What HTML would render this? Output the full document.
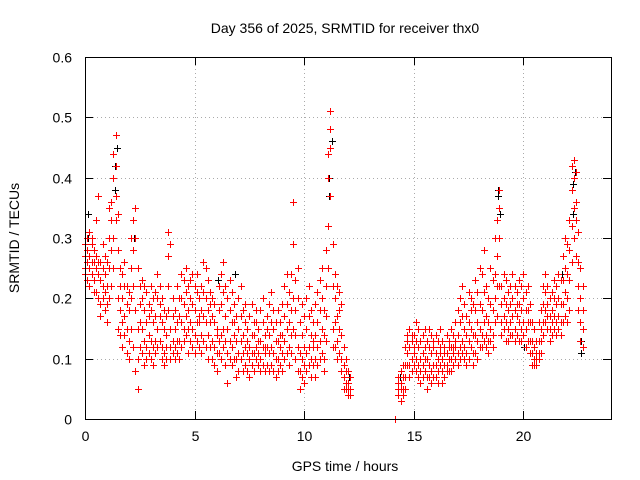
<!DOCTYPE html>
<html><head><meta charset="utf-8"><style>
body{margin:0;background:#fff;}
svg{display:block;font-family:"Liberation Sans",sans-serif;}
</style></head><body>
<svg id="chart" width="640" height="480">
<rect width="640" height="480" fill="#fff"/>
<text x="345" y="33" font-size="14" text-anchor="middle">Day 356 of 2025, SRMTID for receiver thx0</text>
<text x="0" y="0" font-size="14" text-anchor="middle" transform="translate(19,238) rotate(-90)">SRMTID / TECUs</text>
<text x="345" y="471" font-size="14" text-anchor="middle">GPS time / hours</text>
<g id="grid"></g>
<g id="ticks"></g>
<g id="black"></g>
<g id="red"></g>
<rect x="85.5" y="57.5" width="526" height="362" fill="none" stroke="#000"/>
</svg>
<script>
const xTicks=[0,5,10,15,20];
const yTicks=[0,0.1,0.2,0.3,0.4,0.5,0.6];
const yTickLabels=["0","0.1","0.2","0.3","0.4","0.5","0.6"];
const segA=[
[0.0,.27,.25,.29,.24],[0.1,.30,.26,.28,.23],[0.2,.31,.27,.25,.22],[0.3,.29,.26,.24,.30],[0.4,.26,.23,.28,.21],
[0.5,.25,.21,.27,.33],[0.6,.24,.20,.37,.26],[0.7,.23,.19,.26,.17],[0.8,.25,.22,.20,.29],[0.9,.24,.21,.18,.27],
[1.0,.26,.22,.16,.19],[1.1,.35,.30,.25,.20],[1.2,.33,.28,.22,.36],[1.3,.40,.44,.30,.25],[1.4,.47,.42,.37,.33],
[1.5,.34,.28,.20,.15],[1.6,.22,.18,.14,.25],[1.7,.20,.16,.12,.24],[1.8,.22,.17,.26,.14],[1.9,.19,.15,.11,.22],
[2.0,.18,.13,.10,.21],[2.1,.30,.25,.20,.15],[2.2,.33,.28,.22,.12],[2.3,.35,.30,.18,.08],[2.4,.25,.10,.05,.15],
[2.5,.22,.16,.12,.19],[2.6,.20,.15,.11,.23],[2.7,.18,.13,.09,.22],[2.8,.21,.16,.12,.10],[2.9,.19,.14,.11,.17],
[3.0,.18,.13,.10,.22],[3.1,.16,.12,.20,.09],[3.2,.17,.13,.21,.11],[3.3,.20,.15,.12,.24],[3.4,.22,.17,.13,.19],
[3.5,.16,.12,.10,.20],[3.6,.15,.11,.09,.18],[3.7,.14,.10,.17,.12],[3.8,.31,.27,.22,.18],[3.9,.29,.15,.12,.10],
[4.0,.17,.13,.11,.20],[4.1,.15,.12,.10,.18],[4.2,.16,.13,.22,.11],[4.3,.17,.13,.10,.20],[4.4,.24,.20,.16,.12],
[4.5,.23,.19,.15,.13],[4.6,.25,.21,.17,.14],[4.7,.22,.18,.15,.11],[4.8,.20,.16,.13,.23],[4.9,.24,.19,.15,.12],
[5.0,.22,.18,.14,.11],[5.1,.21,.16,.13,.24],[5.2,.20,.16,.12,.17],[5.3,.18,.14,.11,.22],[5.4,.26,.21,.17,.13],
[5.5,.25,.20,.16,.12],[5.6,.23,.18,.14,.10],[5.7,.21,.16,.12,.19],[5.8,.17,.13,.10,.20],[5.9,.16,.12,.09,.19],
[6.0,.15,.11,.14,.08],[6.1,.18,.13,.11,.22],[6.2,.24,.19,.14,.10],[6.3,.26,.21,.15,.12],[6.4,.22,.17,.13,.09],
[6.5,.20,.15,.11,.06],[6.6,.23,.18,.13,.10],[6.7,.21,.16,.12,.09],[6.8,.19,.14,.10,.16],[6.9,.17,.13,.10,.07],
[7.0,.20,.15,.11,.08],[7.1,.22,.17,.13,.10],[7.2,.18,.14,.11,.08],[7.3,.16,.12,.09,.19],[7.4,.15,.11,.08,.13],
[7.5,.17,.12,.10,.07],[7.6,.19,.14,.11,.09],[7.7,.14,.11,.08,.16],[7.8,.16,.12,.10,.18],[7.9,.15,.11,.09,.13],
[8.0,.18,.13,.10,.08],[8.1,.16,.12,.09,.20],[8.2,.14,.11,.08,.12],[8.3,.17,.12,.09,.15],[8.4,.19,.14,.11,.08],
[8.5,.21,.16,.12,.09],[8.6,.15,.11,.08,.18],[8.7,.13,.10,.07,.16],[8.8,.18,.13,.10,.08],[8.9,.16,.12,.09,.14],
[9.0,.19,.14,.11,.08],[9.1,.22,.17,.13,.10],[9.2,.24,.19,.15,.11],[9.3,.21,.16,.12,.09],[9.4,.18,.14,.11,.24],
[9.5,.36,.29,.20,.15],[9.6,.23,.18,.14,.10],[9.7,.25,.20,.12,.08],[9.8,.16,.11,.08,.05],[9.9,.14,.10,.07,.19],
[10.0,.17,.12,.09,.06],[10.1,.20,.15,.11,.08],[10.2,.22,.17,.12,.09],[10.3,.18,.14,.10,.07],[10.4,.16,.12,.09,.13],
[10.5,.19,.14,.10,.07],[10.6,.21,.16,.12,.09],[10.7,.23,.18,.13,.10],[10.8,.20,.15,.11,.25],[10.9,.18,.14,.10,.08],
[11.0,.22,.17,.13,.28],[11.1,.44,.40,.32,.25],[11.2,.51,.48,.45,.37],[11.3,.29,.22,.15,.12],[11.4,.20,.16,.12,.24],
[11.5,.22,.17,.13,.10],[11.6,.21,.15,.11,.18],[11.7,.19,.14,.10,.08],[11.8,.12,.09,.07,.05],[11.9,.10,.08,.06,.05],
[12.0,.08,.06,.05,.04],[12.1,.07,.05,.04]
];
const segB=[
[14.15,0],[14.3,.07,.05,.04,.06],[14.4,.08,.06,.05,.03],[14.5,.09,.07,.05,.04],[14.6,.12,.09,.07,.05],
[14.7,.14,.11,.09,.13],[14.8,.15,.12,.09,.07],[14.9,.13,.10,.08,.14],[15.0,.14,.11,.09,.12],[15.1,.16,.13,.10,.08],
[15.2,.15,.12,.09,.07],[15.3,.13,.10,.08,.06],[15.4,.14,.11,.09,.07],[15.5,.12,.10,.08,.15],[15.6,.13,.10,.07,.05],
[15.7,.15,.12,.09,.07],[15.8,.14,.11,.08,.06],[15.9,.12,.09,.07,.13],[16.0,.14,.11,.09,.07],[16.1,.13,.10,.08,.06],
[16.2,.15,.12,.09,.11],[16.3,.13,.10,.08,.06],[16.4,.12,.09,.07,.11],[16.5,.14,.11,.09,.08],[16.6,.13,.10,.08,.12],
[16.7,.15,.12,.10,.08],[16.8,.14,.11,.09,.12],[16.9,.16,.13,.10,.12],[17.0,.18,.14,.11,.09],[17.1,.20,.16,.12,.10],
[17.2,.22,.17,.13,.11],[17.3,.19,.15,.12,.10],[17.4,.17,.14,.11,.09],[17.5,.21,.16,.13,.10],[17.6,.20,.15,.12,.18],
[17.7,.19,.14,.11,.09],[17.8,.23,.18,.14,.11],[17.9,.21,.16,.13,.10],[18.0,.25,.19,.15,.12],[18.1,.24,.18,.14,.12],
[18.2,.28,.21,.16,.13],[18.3,.22,.17,.14,.12],[18.4,.20,.16,.13,.11],[18.5,.25,.19,.15,.13],[18.6,.23,.18,.14,.12],
[18.7,.30,.24,.20,.16],[18.8,.33,.27,.22,.17],[18.9,.38,.35,.30,.22],[19.0,.22,.19,.16,.14],[19.1,.24,.20,.17,.15],
[19.2,.23,.19,.16,.13],[19.3,.21,.18,.15,.13],[19.4,.22,.19,.16,.14],[19.5,.24,.20,.17,.14],[19.6,.22,.18,.15,.13],
[19.7,.21,.17,.14,.19],[19.8,.23,.19,.16,.13],[19.9,.22,.18,.15,.13],[20.0,.24,.20,.16,.14],[20.1,.21,.18,.15,.12],
[20.2,.22,.18,.16,.13],[20.3,.19,.16,.13,.11],[20.4,.16,.13,.11,.09],[20.5,.15,.12,.10,.09],[20.6,.13,.11,.10,.09],
[20.7,.16,.13,.11,.10],[20.8,.18,.15,.13,.11],[20.9,.22,.19,.16,.14],[21.0,.24,.21,.18,.16],[21.1,.22,.19,.17,.15],
[21.2,.20,.17,.15,.13],[21.3,.21,.18,.16,.14],[21.4,.23,.20,.17,.15],[21.5,.22,.19,.16,.14],[21.6,.24,.20,.17,.15],
[21.7,.23,.19,.16,.14],[21.8,.27,.23,.19,.16],[21.9,.30,.25,.21,.17],[22.0,.29,.24,.20,.16],[22.1,.33,.28,.23,.18],
[22.2,.42,.38,.32,.26],[22.3,.43,.40,.35,.30],[22.4,.41,.36,.33,.27],[22.5,.31,.26,.22,.18],[22.6,.25,.20,.16,.13],
[22.7,.22,.18,.15,.12]
];
const blackSeg=[
[0.15,.34,.30],[1.35,.42,.38],[1.45,.45],[2.25,.30],[6.05,.23],[6.85,.24],[11.15,.40,.37],[11.25,.46],
[12.05,.07],[18.85,.38,.37],[18.95,.34],[21.75,.24],[22.25,.39,.34],[22.35,.41],[22.65,.11,.13],[20.05,.12],[14.35,.07]
];
const NS="http://www.w3.org/2000/svg";
const X0=85,X1=611,Y0=419,Y1=57,XMAX=24,YMAX=0.6;
function xs(t){return X0+(X1-X0)*t/XMAX;}
function ys(v){return Y0-(Y0-Y1)*v/YMAX;}
const grid=document.getElementById('grid'),ticks=document.getElementById('ticks');
function line(g,x1,y1,x2,y2,st,dash){const l=document.createElementNS(NS,'line');l.setAttribute('x1',x1);l.setAttribute('y1',y1);l.setAttribute('x2',x2);l.setAttribute('y2',y2);l.setAttribute('stroke',st);l.setAttribute('shape-rendering','crispEdges');if(dash)l.setAttribute('stroke-dasharray',dash);g.appendChild(l);return l;}
function txt(s,x,y,anchor,name){const t=document.createElementNS(NS,'text');t.setAttribute('x',x);t.setAttribute('y',y);t.setAttribute('font-size','14');t.setAttribute('text-anchor',anchor);t.textContent=s;


ticks.appendChild(t);}
xTicks.forEach(v=>{const x=Math.round(xs(v))+0.5;
if(v>0&&v<XMAX){const gl=line(grid,x,Y1,x,Y0,'#aaa','1,3');

}
line(ticks,x,Y0,x,Y0-8,'#000');line(ticks,x,Y1,x,Y1+8,'#000');
txt(String(v),x,441,'middle','x-tick-label');});
yTicks.forEach((v,i)=>{const y=Math.round(ys(v))+0.5;
if(v>0&&v<YMAX){const gl=line(grid,X0,y,X1,y,'#aaa','1,3');

}
line(ticks,X0,y,X0+8,y,'#000');line(ticks,X1,y,X1-8,y,'#000');
txt(yTickLabels[i],72,y+5,'end','y-tick-label');});
function plot(gid,segs,color){const g=document.getElementById(gid);let d='';
segs.forEach(seg=>seg.forEach(row=>{const xi=Math.round(xs(row[0]));for(let k=1;k<row.length;k++){const yi=Math.round(ys(row[k]));d+='M'+(xi-3)+' '+(yi+0.5)+'h7M'+(xi+0.5)+' '+(yi-3)+'v7';}}));
const p=document.createElementNS(NS,'path');p.setAttribute('d',d);p.setAttribute('stroke',color);p.setAttribute('stroke-width','1');p.setAttribute('fill','none');p.setAttribute('shape-rendering','crispEdges');


g.appendChild(p);}
plot('black',[blackSeg],'#000');
plot('red',[segA,segB],'#f00');
</script>
</body></html>
